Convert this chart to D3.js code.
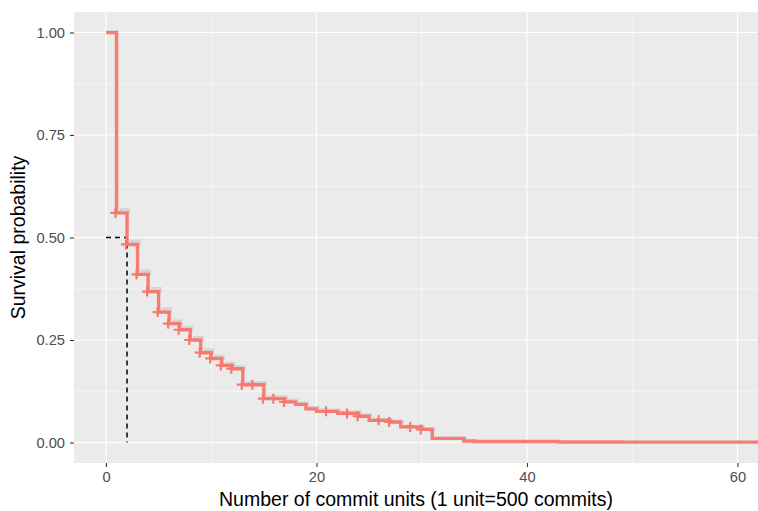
<!DOCTYPE html>
<html>
<head>
<meta charset="utf-8">
<script src="https://cdn.jsdelivr.net/npm/d3@7"></script>
<style>
  html, body { margin: 0; padding: 0; background: #fff; }
  #chart { width: 758px; height: 511px; }
  text { font-family: "Liberation Sans", Arial, sans-serif; }
</style>
</head>
<body>
<div id="chart"></div>
<script>
// Kaplan-Meier estimate
const times = [0, 1, 2, 3, 4, 5, 6, 7, 8, 9, 10, 11, 12, 13, 15, 17, 18, 19, 20, 22, 24, 25, 27, 28, 30, 31, 34, 35, 43, 49, 65];
const surv = [1, 0.56, 0.483, 0.41, 0.368, 0.318, 0.29, 0.275, 0.25, 0.219, 0.205, 0.188, 0.18, 0.141, 0.107, 0.099, 0.093, 0.082, 0.076, 0.071, 0.064, 0.054, 0.05, 0.038, 0.032, 0.01, 0.0035, 0.0025, 0.0012, 0.0008, 0.0008];
const ciUpper = [1, 0.572, 0.495, 0.422, 0.379, 0.329, 0.3, 0.285, 0.26, 0.229, 0.214, 0.197, 0.189, 0.15, 0.115, 0.107, 0.1, 0.089, 0.083, 0.078, 0.07, 0.06, 0.056, 0.043, 0.037, 0.014, 0.006, 0.0045, 0.0025, 0.0018, 0.0018];
const ciLower = [1, 0.556, 0.479, 0.406, 0.364, 0.314, 0.286, 0.271, 0.246, 0.215, 0.201, 0.184, 0.176, 0.137, 0.103, 0.095, 0.089, 0.078, 0.072, 0.067, 0.06, 0.05, 0.046, 0.034, 0.028, 0.007, 0.002, 0.0012, 0.0004, 0.0002, 0.0002];
const censorTimes = [1, 2, 3, 4, 5, 6, 7, 8, 9, 10, 11, 12, 13, 14, 15, 16, 17, 21, 23, 24, 26, 27, 29, 30];
const medianTime = 2;
const medianSurv = 0.5;

const xTicks = [0, 20, 40, 60];
const xMinor = [10, 30, 50];
const yTicks = [0, 0.25, 0.5, 0.75, 1];
const yMinor = [0.125, 0.375, 0.625, 0.875];

const xTitle = "Number of commit units (1 unit=500 commits)";
const yTitle = "Survival probability";

const width = 758, height = 511;
const margin = { top: 12, right: 0, bottom: 48, left: 74 };
const innerW = width - margin.left - margin.right;
const innerH = height - margin.top - margin.bottom;

const svg = d3.select("#chart").append("svg")
  .attr("width", width).attr("height", height);
const g = svg.append("g").attr("transform", `translate(${margin.left},${margin.top})`);

const x = d3.scaleLinear().domain([-3.04, 61.95]).range([0, innerW]);
const y = d3.scaleLinear().domain([-0.05, 1.05]).range([innerH, 0]);

// panel
g.append("rect").attr("width", innerW).attr("height", innerH).attr("fill", "#EBEBEB");

g.selectAll(".vminor").data(xMinor).join("line")
  .attr("x1", d => x(d)).attr("x2", d => x(d)).attr("y1", 0).attr("y2", innerH)
  .attr("stroke", "#fff").attr("stroke-width", 0.55);
g.selectAll(".hminor").data(yMinor).join("line")
  .attr("y1", d => y(d)).attr("y2", d => y(d)).attr("x1", 0).attr("x2", innerW)
  .attr("stroke", "#fff").attr("stroke-width", 0.55);
g.selectAll(".vmajor").data(xTicks).join("line")
  .attr("x1", d => x(d)).attr("x2", d => x(d)).attr("y1", 0).attr("y2", innerH)
  .attr("stroke", "#fff").attr("stroke-width", 1.1);
g.selectAll(".hmajor").data(yTicks).join("line")
  .attr("y1", d => y(d)).attr("y2", d => y(d)).attr("x1", 0).attr("x2", innerW)
  .attr("stroke", "#fff").attr("stroke-width", 1.1);

svg.append("clipPath").attr("id", "clip")
  .append("rect").attr("width", innerW).attr("height", innerH);

const plot = g.append("g").attr("clip-path", "url(#clip)");

const pts = times.map((t, i) => ({ t, s: surv[i], lo: ciLower[i], hi: ciUpper[i] }));

// confidence band
const band = d3.area()
  .curve(d3.curveStepAfter)
  .x(d => x(d.t) + 3)
  .y0(d => y(d.lo))
  .y1(d => y(d.hi));
plot.append("path").datum(pts)
  .attr("d", band)
  .attr("fill", "#c4c4c4").attr("fill-opacity", 0.6);

// median lines
plot.append("path")
  .attr("d", d3.line()([[x(0), y(medianSurv)], [x(medianTime), y(medianSurv)], [x(medianTime), y(0)]]))
  .attr("fill", "none").attr("stroke", "#000").attr("stroke-width", 1.5)
  .attr("stroke-dasharray", "5,4");

// survival curve
const line = d3.line().curve(d3.curveStepAfter).x(d => x(d.t)).y(d => y(d.s));
plot.append("path").datum(pts)
  .attr("d", line)
  .attr("fill", "none").attr("stroke", "#F8766D").attr("stroke-width", 3.4)
  .attr("stroke-opacity", 0.95);

// censor marks
function survAt(t) {
  let s = surv[0];
  for (let i = 0; i < times.length; i++) if (times[i] <= t) s = surv[i];
  return s;
}
const cs = 5;
plot.selectAll(".censor").data(censorTimes).join("path")
  .attr("d", t => {
    const cx = x(t) - 1, cy = y(survAt(t));
    return `M${cx - cs},${cy}H${cx + cs}M${cx},${cy - cs}V${cy + cs}`;
  })
  .attr("stroke", "#F8766D").attr("stroke-width", 2.2).attr("fill", "none");

// axes
const xAxis = g.append("g").attr("transform", `translate(0,${innerH})`)
  .call(d3.axisBottom(x).tickValues(xTicks).tickSize(4).tickPadding(5).tickFormat(d3.format("d")));
const yAxis = g.append("g")
  .call(d3.axisLeft(y).tickValues(yTicks).tickSize(4).tickPadding(5).tickFormat(d3.format(".2f")));
[xAxis, yAxis].forEach(a => {
  a.select(".domain").remove();
  a.selectAll(".tick line").attr("stroke", "#333").attr("stroke-width", 1.1);
  a.selectAll(".tick text").attr("fill", "#4D4D4D").style("font-size", "14.7px")
    .style("font-family", "'Liberation Sans', Arial, sans-serif");
});

svg.append("text")
  .attr("x", margin.left + innerW / 2).attr("y", 506)
  .attr("text-anchor", "middle").attr("fill", "#000")
  .style("font-size", "19.5px")
  .text(xTitle);

svg.append("text")
  .attr("transform", `translate(25,${margin.top + innerH / 2}) rotate(-90)`)
  .attr("text-anchor", "middle").attr("fill", "#000")
  .style("font-size", "19.5px")
  .text(yTitle);
</script>
</body>
</html>
